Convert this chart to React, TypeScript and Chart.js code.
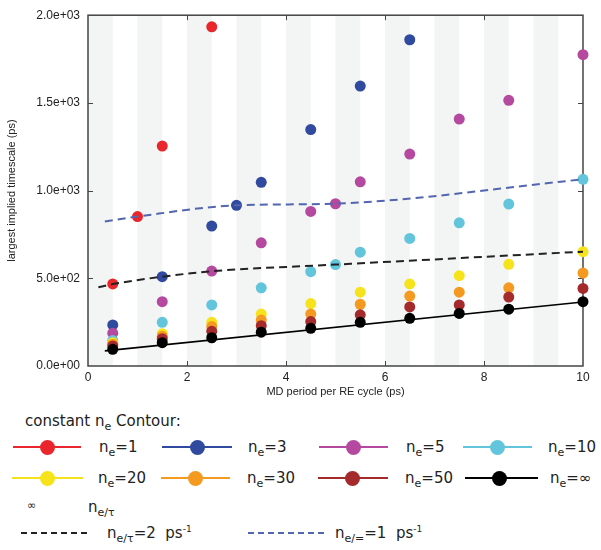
import React, { useEffect, useRef } from "react";
import { Chart, registerables } from "chart.js";
Chart.register(...registerables);

// ---- data ----
const xRed = [0.5, 1.0, 1.5, 2.5];
const yRed = [468, 852, 1254, 1934];
const xBlue = [0.5, 1.5, 2.5, 3.0, 3.5, 4.5, 5.5, 6.5];
const yBlue = [234, 509, 798, 916, 1047, 1348, 1596, 1860];
const xMagenta = [0.5, 1.5, 2.5, 3.5, 4.5, 5.0, 5.5, 6.5, 7.5, 8.5, 10];
const yMagenta = [187, 367, 541, 702, 881, 925, 1050, 1208, 1408, 1515, 1775];
const xCyan = [0.5, 1.5, 2.5, 3.5, 4.5, 5.0, 5.5, 6.5, 7.5, 8.5, 10];
const yCyan = [146, 249, 348, 446, 538, 578, 649, 727, 816, 923, 1064];
const xMain = [0.5, 1.5, 2.5, 3.5, 4.5, 5.5, 6.5, 7.5, 8.5, 10];
const yYellow = [133, 184, 249, 296, 356, 421, 468, 515, 580, 652];
const yOrange = [124, 170, 225, 262, 296, 352, 399, 421, 446, 530];
const yDarkRed = [114, 156, 198, 230, 253, 292, 337, 348, 393, 442];
const yBlack = [95, 133, 161, 193, 215, 249, 272, 300, 324, 367];

const xFitInf = [0.34, 10];
const yFitInf = [86, 365];
const xRate2 = [0.21, 0.5, 1.5, 2.5, 5.0, 10];
const yRate2 = [449, 467, 509, 540, 578, 652];
const xRate1 = [0.34, 1.0, 3.0, 5.0, 10];
const yRate1 = [824, 852, 916, 926, 1064];

const xTicks = [0, 2, 4, 6, 8, 10];
const yTicks = [0, 500, 1000, 1500, 2000];
const stripeStarts = [0, 1, 2, 3, 4, 5, 6, 7, 8, 9];

const neLabels = ["1", "3", "5", "10", "20", "30", "50", "\u221e"];
const neColors = ["#e8262b", "#2f4a9e", "#b4499f", "#63c5dc", "#f7e31b", "#f59a20", "#a42a2c", "#000000"];

const pts = (xs: number[], ys: number[]) => xs.map((x, i) => ({ x, y: ys[i] }));

const seriesX = [xRed, xBlue, xMagenta, xCyan, xMain, xMain, xMain, xMain];
const seriesY = [yRed, yBlue, yMagenta, yCyan, yYellow, yOrange, yDarkRed, yBlack];

const stripesPlugin = {
  id: "stripes",
  beforeDatasetsDraw(chart: any) {
    const { ctx, chartArea, scales } = chart;
    const { top, bottom, left, right } = chartArea;
    const x = scales.x;
    const y = scales.y;
    ctx.save();
    ctx.fillStyle = "#f3f4f4";
    stripeStarts.forEach((k) => {
      const a = x.getPixelForValue(k);
      const b = x.getPixelForValue(k + 0.5);
      ctx.fillRect(a, top, b - a, bottom - top);
    });
    ctx.strokeStyle = "#444";
    ctx.lineWidth = 1.5;
    ctx.strokeRect(left, top, right - left, bottom - top);
    ctx.lineWidth = 1;
    ctx.beginPath();
    xTicks.slice(1, -1).forEach((v) => {
      const px = Math.round(x.getPixelForValue(v)) + 0.5;
      ctx.moveTo(px, bottom);
      ctx.lineTo(px, bottom - 5);
      ctx.moveTo(px, top);
      ctx.lineTo(px, top + 5);
    });
    yTicks.slice(1, -1).forEach((v) => {
      const py = Math.round(y.getPixelForValue(v)) + 0.5;
      ctx.moveTo(left, py);
      ctx.lineTo(left + 5, py);
      ctx.moveTo(right, py);
      ctx.lineTo(right - 5, py);
    });
    ctx.stroke();
    ctx.restore();
  },
};

const fmtExp = (v: number) => {
  const s = Number(v).toExponential(1);
  return s.replace(/e([+-])(\d)$/, "e$10$2");
};

const Sub = ({ children }: { children: React.ReactNode }) => (
  <span style={{ fontSize: 11, position: "relative", top: 4 }}>{children}</span>
);
const Sup = ({ children }: { children: React.ReactNode }) => (
  <span style={{ fontSize: 9, position: "relative", top: -6 }}>{children}</span>
);

const TextAt = ({ x, y, children, size = 15 }: any) => (
  <div
    style={{
      position: "absolute",
      left: x,
      top: y - 10,
      height: 20,
      lineHeight: "20px",
      fontSize: size,
      whiteSpace: "nowrap",
    }}
  >
    {children}
  </div>
);

const LineDot = ({ x1, x2, cx, y, color }: any) => (
  <>
    <div style={{ position: "absolute", left: x1, top: y - 1, width: x2 - x1, height: 2, background: color }} />
    <div
      style={{
        position: "absolute",
        left: cx - 7.5,
        top: y - 7.5,
        width: 15,
        height: 15,
        borderRadius: "50%",
        background: color,
      }}
    />
  </>
);

const DashLine = ({ x1, x2, y, color }: any) => (
  <svg style={{ position: "absolute", left: x1, top: y - 2 }} width={x2 - x1} height={4}>
    <line x1={0} y1={2} x2={x2 - x1} y2={2} stroke={color} strokeWidth={2} strokeDasharray="6 4" />
  </svg>
);

// legend layout positions
const legendRowsY = [447, 478];
const legendSym = [
  [13, 81, 47, 99],
  [162, 232, 197, 248],
  [319, 388, 353, 406],
  [463, 532, 497, 548],
  [12, 83, 47, 98],
  [161, 230, 195, 247],
  [318, 388, 352, 405],
  [465, 538, 499, 550],
];

export default function App() {
  const ref = useRef<HTMLCanvasElement>(null);
  useEffect(() => {
    const font = { family: '"Liberation Sans", Arial, sans-serif', size: 12 };
    const scatterSets = neLabels.map((lab, i) => ({
      label: "ne=" + lab,
      data: pts(seriesX[i], seriesY[i]),
      showLine: false,
      pointRadius: 5.5,
      pointHoverRadius: 5.5,
      pointBorderWidth: 0,
      backgroundColor: neColors[i],
      borderColor: neColors[i],
      clip: false as any,
      order: 8 - i + 1,
    }));
    const chart = new Chart(ref.current!, {
      type: "scatter",
      data: {
        datasets: [
          {
            label: "fit ne=inf",
            data: pts(xFitInf, yFitInf),
            showLine: true,
            borderColor: "#000",
            borderWidth: 1.6,
            pointRadius: 0,
            order: 0,
          },
          {
            label: "ne/tau=2",
            data: pts(xRate2, yRate2),
            showLine: true,
            borderColor: "#222",
            borderWidth: 2,
            borderDash: [8, 5],
            pointRadius: 0,
            cubicInterpolationMode: "monotone",
            order: 0,
          },
          {
            label: "ne/tau=1",
            data: pts(xRate1, yRate1),
            showLine: true,
            borderColor: "#5266b0",
            borderWidth: 2,
            borderDash: [8, 5],
            pointRadius: 0,
            cubicInterpolationMode: "monotone",
            order: 0,
          },
          ...scatterSets,
        ] as any,
      },
      options: {
        animation: false,
        responsive: false,
        maintainAspectRatio: false,
        layout: { padding: { left: 0, right: 18, top: 10, bottom: 0 } },
        plugins: { legend: { display: false }, tooltip: { enabled: false } },
        scales: {
          x: {
            type: "linear",
            min: 0,
            max: 10,
            afterBuildTicks: (s: any) => {
              s.ticks = xTicks.map((v) => ({ value: v }));
            },
            afterFit: (s: any) => {
              s.height = 34;
            },
            grid: { display: false, drawTicks: false },
            border: { display: false },
            ticks: { font, color: "#222", padding: 4, callback: (v: any) => String(v) },
            title: {
              display: true,
              text: "MD period per RE cycle (ps)",
              font: { family: '"Liberation Sans", Arial, sans-serif', size: 11 },
              color: "#222",
              padding: { top: 0, bottom: 1 },
            },
          },
          y: {
            type: "linear",
            min: 0,
            max: 2000,
            afterBuildTicks: (s: any) => {
              s.ticks = yTicks.map((v) => ({ value: v }));
            },
            afterFit: (s: any) => {
              s.width = 88;
            },
            grid: { display: false, drawTicks: false },
            border: { display: false },
            ticks: { font, color: "#222", padding: 8, callback: (v: any) => fmtExp(v) },
            title: {
              display: true,
              text: "largest implied timescale (ps)",
              font: { family: '"Liberation Sans", Arial, sans-serif', size: 11 },
              color: "#222",
              padding: { top: 5, bottom: 0 },
            },
          },
        },
      } as any,
      plugins: [stripesPlugin],
    });
    return () => chart.destroy();
  }, []);

  return (
    <div
      style={{
        position: "absolute",
        left: 0,
        top: 0,
        width: 601,
        height: 550,
        background: "#fff",
        fontFamily: '"DejaVu Sans", sans-serif',
        color: "#222",
        overflow: "hidden",
      }}
    >
      <canvas ref={ref} width={601} height={400} style={{ position: "absolute", left: 0, top: 0, width: 601, height: 400 }} />
      <TextAt x={25} y={421}>
        constant n<Sub>e</Sub> Contour:
      </TextAt>
      {neLabels.map((lab, i) => {
        const [x1, x2, cx, tx] = legendSym[i];
        const y = legendRowsY[i < 4 ? 0 : 1];
        return (
          <React.Fragment key={lab}>
            <LineDot x1={x1} x2={x2} cx={cx} y={y} color={neColors[i]} />
            <TextAt x={tx} y={y}>
              n<Sub>e</Sub>={lab}
            </TextAt>
          </React.Fragment>
        );
      })}
      <TextAt x={27} y={506} size={11}>
        {"\u221e"}
      </TextAt>
      <TextAt x={88} y={507}>
        n<Sub>e/{"\u03c4"}</Sub>
      </TextAt>
      <DashLine x1={21} x2={90} y={533} color="#222" />
      <TextAt x={107} y={533}>
        n<Sub>e/{"\u03c4"}</Sub>=2{"\u00a0 "}ps<Sup>-1</Sup>
      </TextAt>
      <DashLine x1={248} x2={327} y={533} color="#5266b0" />
      <TextAt x={335} y={533}>
        n<Sub>e/=</Sub>=1{"\u00a0 "}ps<Sup>-1</Sup>
      </TextAt>
    </div>
  );
}
